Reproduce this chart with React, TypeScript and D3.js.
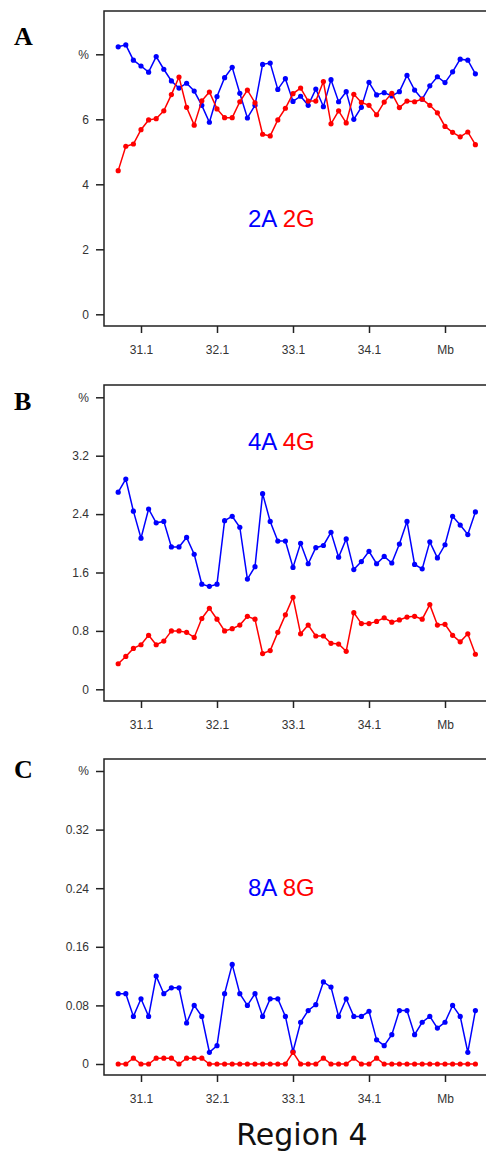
import React, { useEffect, useRef } from 'react';
import * as d3 from 'd3';

// genomic positions (Mb) of the sampled windows
const positions = [
  30.8, 30.9, 31.0, 31.1, 31.2, 31.3, 31.4, 31.5, 31.6, 31.7, 31.8, 31.9,
  32.0, 32.1, 32.2, 32.3, 32.4, 32.5, 32.6, 32.7, 32.8, 32.9, 33.0, 33.1,
  33.2, 33.3, 33.4, 33.5, 33.6, 33.7, 33.8, 33.9, 34.0, 34.1, 34.2, 34.3,
  34.4, 34.5, 34.6, 34.7, 34.8, 34.9, 35.0, 35.1, 35.2, 35.3, 35.4, 35.5,
];

const xTicks = [31.1, 32.1, 33.1, 34.1, 35.1];
const xTickLabels = ['31.1', '32.1', '33.1', '34.1', 'Mb'];

const a2A = [
  8.23, 8.29, 7.82, 7.64, 7.45, 7.93, 7.54, 7.18, 6.96, 7.11, 6.87, 6.43,
  5.91, 6.70, 7.28, 7.60, 6.80, 6.04, 6.43, 7.69, 7.73, 6.92, 7.25, 6.55,
  6.71, 6.43, 6.93, 6.39, 7.22, 6.54, 6.85, 6.00, 6.37, 7.14, 6.75, 6.82,
  6.72, 6.85, 7.35, 6.90, 6.62, 7.03, 7.31, 7.13, 7.46, 7.85, 7.82, 7.40,
];
const a2G = [
  4.42, 5.17, 5.24, 5.68, 5.98, 6.02, 6.26, 6.76, 7.30, 6.37, 5.82, 6.57,
  6.84, 6.32, 6.05, 6.05, 6.54, 6.90, 6.51, 5.54, 5.49, 5.98, 6.34, 6.79,
  6.96, 6.56, 6.56, 7.16, 5.86, 6.26, 5.89, 6.77, 6.52, 6.43, 6.14, 6.53,
  6.80, 6.36, 6.56, 6.54, 6.62, 6.43, 6.20, 5.78, 5.60, 5.46, 5.61, 5.22,
];

const b4A = [
  2.70, 2.88, 2.44, 2.07, 2.47, 2.28, 2.30, 1.95, 1.95, 2.08, 1.85, 1.44,
  1.41, 1.44, 2.31, 2.37, 2.22, 1.51, 1.68, 2.68, 2.30, 2.03, 2.03, 1.67,
  2.00, 1.72, 1.94, 1.97, 2.15, 1.81, 2.06, 1.64, 1.75, 1.89, 1.72, 1.82,
  1.73, 1.99, 2.30, 1.71, 1.65, 2.02, 1.80, 1.98, 2.37, 2.25, 2.12, 2.43,
];
const b4G = [
  0.35, 0.45, 0.56, 0.61, 0.74, 0.61, 0.66, 0.80, 0.80, 0.78, 0.71, 0.97,
  1.11, 0.96, 0.80, 0.83, 0.88, 1.00, 0.96, 0.49, 0.53, 0.78, 1.02, 1.26,
  0.76, 0.88, 0.73, 0.73, 0.63, 0.62, 0.52, 1.05, 0.90, 0.90, 0.93, 0.98,
  0.92, 0.95, 0.99, 1.00, 0.96, 1.16, 0.88, 0.89, 0.74, 0.65, 0.76, 0.48,
];

const c8A = [
  0.096, 0.096, 0.065, 0.089, 0.065, 0.120, 0.096, 0.104, 0.104, 0.056, 0.080, 0.065,
  0.016, 0.025, 0.096, 0.136, 0.096, 0.080, 0.096, 0.065, 0.089, 0.089, 0.065, 0.017,
  0.057, 0.073, 0.081, 0.112, 0.105, 0.065, 0.089, 0.065, 0.065, 0.072, 0.033, 0.025,
  0.040, 0.073, 0.073, 0.040, 0.057, 0.065, 0.049, 0.057, 0.080, 0.065, 0.016, 0.073,
];
const c8G = [
  0, 0, 0.008, 0, 0, 0.008, 0.008, 0.008, 0, 0.008, 0.008, 0.008,
  0, 0, 0, 0, 0, 0, 0, 0, 0, 0, 0, 0.016,
  0, 0, 0, 0.008, 0, 0, 0, 0.008, 0, 0, 0.008, 0,
  0, 0, 0, 0, 0, 0, 0, 0, 0, 0, 0, 0,
];

const aTicks = [0, 2, 4, 6, 8];
const aTickLabels = ['0', '2', '4', '6', '%'];
const bTicks = [0, 0.8, 1.6, 2.4, 3.2, 4.0];
const bTickLabels = ['0', '0.8', '1.6', '2.4', '3.2', '%'];
const cTicks = [0, 0.08, 0.16, 0.24, 0.32, 0.4];
const cTickLabels = ['0', '0.08', '0.16', '0.24', '0.32', '%'];

const panels = [
  { letter: 'A', top: 11, bottom: 326, y0: 314.3, yTop: 54.3, max: 8, ticks: aTicks, labels: aTickLabels,
    blue: a2A, red: a2G, nameA: '2A', nameG: '2G', legendY: 227, letterY: 45 },
  { letter: 'B', top: 385, bottom: 701, y0: 689.3, yTop: 397.3, max: 4, ticks: bTicks, labels: bTickLabels,
    blue: b4A, red: b4G, nameA: '4A', nameG: '4G', legendY: 450, letterY: 410 },
  { letter: 'C', top: 759, bottom: 1075, y0: 1064, yTop: 771, max: 0.4, ticks: cTicks, labels: cTickLabels,
    blue: c8A, red: c8G, nameA: '8A', nameG: '8G', legendY: 896, letterY: 778 },
];

const font = '"Liberation Sans", Arial, sans-serif';
const axisColor = '#222';

export default function App() {
  const ref = useRef<SVGSVGElement>(null);

  useEffect(() => {
    const svg = d3.select(ref.current);
    svg.selectAll('*').remove();

    const left = 104;
    const x = d3.scaleLinear().domain([31.1, 35.1]).range([141, 445]);

    panels.forEach(p => {
      const y = d3.scaleLinear().domain([0, p.max]).range([p.y0, p.yTop]);
      const g = svg.append('g');

      // box (open on the right, runs off the page)
      g.append('path')
        .attr('d', `M520,${p.top}H${left}V${p.bottom}H520`)
        .attr('fill', 'none')
        .attr('stroke', axisColor)
        .attr('stroke-width', 1.5);

      const yAxis = d3.axisLeft(y)
        .tickValues(p.ticks)
        .tickSize(8)
        .tickPadding(7)
        .tickFormat((d, i) => p.labels[i]);

      g.append('g')
        .attr('transform', `translate(${left},0)`)
        .call(yAxis)
        .call(s => s.select('.domain').remove())
        .call(s => s.selectAll('line').attr('stroke', axisColor).attr('stroke-width', 1.5))
        .call(s => s.selectAll('text').attr('font-family', font).attr('font-size', 12).attr('fill', '#333'));

      const xAxis = d3.axisBottom(x)
        .tickValues(xTicks)
        .tickSize(7)
        .tickPadding(12)
        .tickFormat((d, i) => xTickLabels[i]);

      g.append('g')
        .attr('transform', `translate(0,${p.bottom})`)
        .call(xAxis)
        .call(s => s.select('.domain').remove())
        .call(s => s.selectAll('line').attr('stroke', axisColor).attr('stroke-width', 1.5))
        .call(s => s.selectAll('text').attr('font-family', font).attr('font-size', 12).attr('fill', '#333'));

      const series = [
        { values: p.blue, color: '#0000ff' },
        { values: p.red, color: '#ff0000' },
      ];

      // red drawn over blue for C baseline, blue first elsewhere
      series.forEach(s => {
        const line = d3.line<number>()
          .x((d, i) => x(positions[i]))
          .y(d => y(d));
        g.append('path')
          .datum(s.values)
          .attr('fill', 'none')
          .attr('stroke', s.color)
          .attr('stroke-width', 1.5)
          .attr('d', line);
        g.selectAll(null)
          .data(s.values)
          .enter()
          .append('circle')
          .attr('cx', (d, i) => x(positions[i]))
          .attr('cy', d => y(d))
          .attr('r', 2.6)
          .attr('fill', s.color);
      });

      const legend = g.append('text')
        .attr('x', 248)
        .attr('y', p.legendY)
        .attr('font-family', font)
        .attr('font-size', 24);
      legend.append('tspan').attr('fill', '#0000ff').text(p.nameA);
      legend.append('tspan').attr('fill', '#ff0000').text(' ' + p.nameG);

      g.append('text')
        .attr('x', 14)
        .attr('y', p.letterY)
        .attr('font-family', '"Liberation Serif", "Times New Roman", serif')
        .attr('font-weight', 'bold')
        .attr('font-size', 26)
        .text(p.letter);
    });

    svg.append('text')
      .attr('x', 302)
      .attr('y', 1145)
      .attr('text-anchor', 'middle')
      .attr('font-family', '"DejaVu Sans", sans-serif')
      .attr('font-size', 30)
      .attr('fill', '#111')
      .text('Region 4');
  }, []);

  return (
    <>
      <style>{'body{margin:0}'}</style>
      <svg ref={ref} width={486} height={1151} style={{ display: 'block', background: '#fff' }} />
    </>
  );
}
